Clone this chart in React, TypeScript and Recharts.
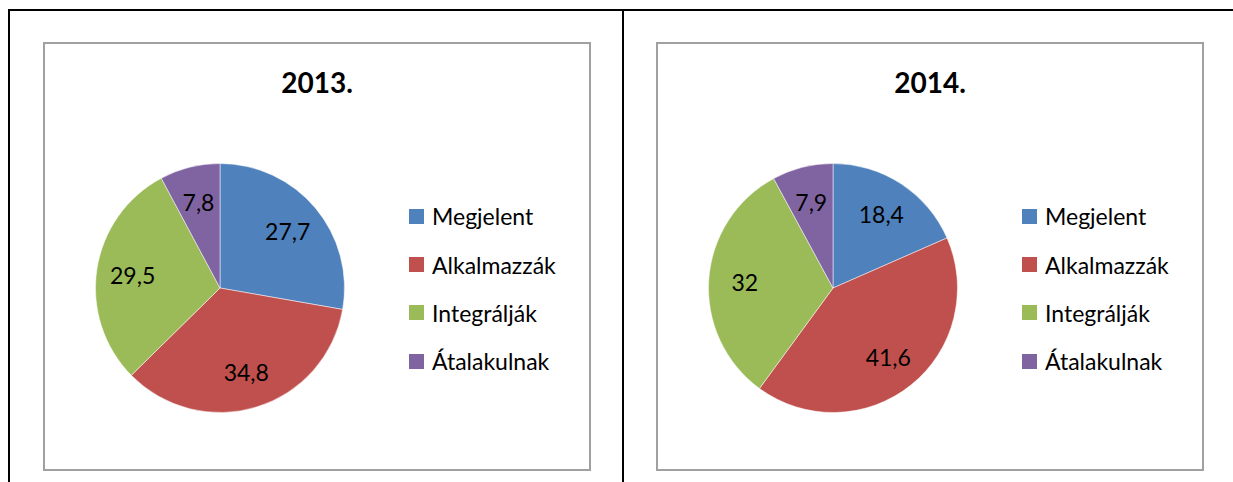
import React from "react";
import { PieChart, Pie, Cell, Legend } from "recharts";

const categories = ["Megjelent", "Alkalmazzák", "Integrálják", "Átalakulnak"];
const values2013 = [27.7, 34.8, 29.5, 7.8];
const values2014 = [18.4, 41.6, 32, 7.9];
const titles = ["2013.", "2014."];
const colors = ["#4F81BD", "#C0504D", "#9BBB59", "#8064A2"];

const FONT = "Lato, 'Liberation Sans', sans-serif";
const RAD = Math.PI / 180;

const fmt = (v: number) => String(v).replace(".", ",");

const renderLabel = (props: any) => {
  const { cx, cy, midAngle, outerRadius, value } = props;
  const r = outerRadius * 0.71;
  const x = cx + r * Math.cos(-midAngle * RAD);
  const y = cy + r * Math.sin(-midAngle * RAD);
  return (
    <text
      x={x}
      y={y}
      fill="#000"
      fontFamily={FONT}
      fontSize={23}
      textAnchor="middle"
      dominantBaseline="central"
    >
      {fmt(value)}
    </text>
  );
};

const LegendContent = (props: any) => {
  const payload = [...(props.payload || [])].sort(
    (a: any, b: any) => categories.indexOf(a.value) - categories.indexOf(b.value)
  );
  return (
    <div style={{ fontFamily: FONT, fontSize: 23, color: "#000" }}>
      {payload.map((p: any, i: number) => (
        <div
          key={i}
          style={{ height: 48.4, display: "flex", alignItems: "center" }}
        >
          <div
            style={{
              width: 15,
              height: 15,
              background: p.color || colors[i],
              marginRight: 8,
            }}
          />
          <span style={{ lineHeight: "26px" }}>{p.value}</span>
        </div>
      ))}
    </div>
  );
};

const BOX_W = 548;
const BOX_H = 429;

function ChartBox({ left, title, values }: { left: number; title: string; values: number[] }) {
  const data = categories.map((c, i) => ({ name: c, value: values[i] }));
  return (
    <div
      style={{
        position: "absolute",
        left,
        top: 42,
        width: BOX_W,
        height: BOX_H,
        boxSizing: "border-box",
        border: "2px solid #a0a0a0",
        background: "#fff",
      }}
    >
      <div
        style={{
          position: "absolute",
          left: -2,
          top: 22,
          width: BOX_W,
          textAlign: "center",
          fontFamily: FONT,
          fontWeight: 700,
          fontSize: 28,
          lineHeight: "32px",
          color: "#000",
        }}
      >
        {title}
      </div>
      <div style={{ position: "absolute", left: -2, top: -2 }}>
        <PieChart width={BOX_W} height={BOX_H} margin={{ top: 0, right: 0, bottom: 0, left: 0 }}>
          <Pie
            data={data}
            dataKey="value"
            nameKey="name"
            cx={177}
            cy={246}
            outerRadius={124.5}
            startAngle={90}
            endAngle={-270}
            stroke="#ffffff"
            strokeWidth={0.5}
            label={renderLabel}
            labelLine={false}
            isAnimationActive={false}
          >
            {data.map((d, i) => (
              <Cell key={d.name} fill={colors[i]} />
            ))}
          </Pie>
          <Legend
            layout="vertical"
            content={<LegendContent />}
            wrapperStyle={{ position: "absolute", left: 366, top: 150, width: 180 }}
          />
        </PieChart>
      </div>
    </div>
  );
}

export default function App() {
  return (
    <div
      style={{
        position: "absolute",
        left: 0,
        top: 0,
        width: 1233,
        height: 482,
        background: "#fff",
        overflow: "hidden",
      }}
    >
      <div style={{ position: "absolute", left: 8, top: 9, width: 1225, height: 2, background: "#000" }} />
      <div style={{ position: "absolute", left: 8, top: 9, width: 2, height: 473, background: "#000" }} />
      <div style={{ position: "absolute", left: 622, top: 9, width: 2, height: 473, background: "#000" }} />
      <ChartBox left={43} title={titles[0]} values={values2013} />
      <ChartBox left={656} title={titles[1]} values={values2014} />
    </div>
  );
}
